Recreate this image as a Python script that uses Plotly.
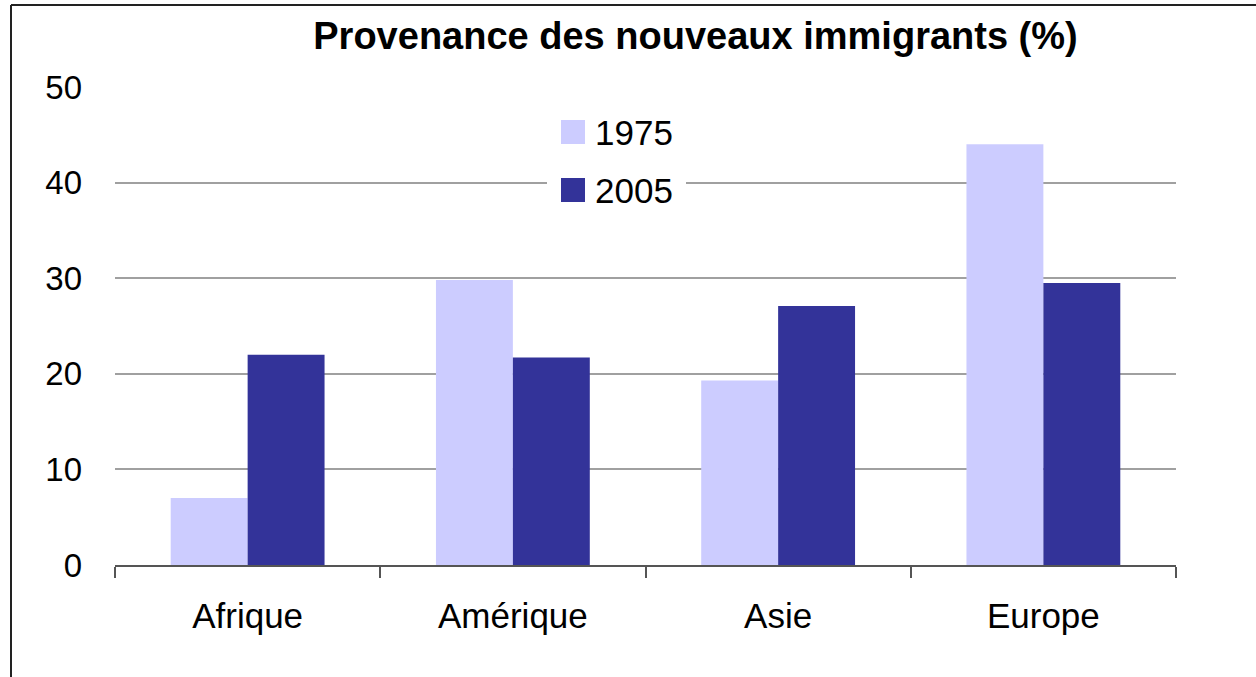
import plotly.graph_objects as go

categories = ["Afrique", "Amérique", "Asie", "Europe"]
series_names = ["1975", "2005"]
values_1975 = [7.0, 29.8, 19.3, 44.0]
values_2005 = [22.0, 21.7, 27.1, 29.5]
y_ticks = [0, 10, 20, 30, 40, 50]
title_text = "Provenance des nouveaux immigrants (%)"

colors = ["#CCCCFF", "#333399"]
FONT = "Liberation Sans, Arial, sans-serif"

W, H = 1256, 677
L, R, T, B = 115, 80, 87, 112
pw, ph = W - L - R, H - T - B

def px_x(x):
    return (x - L) / pw

def px_y(y):
    return (H - B - y) / ph

fig = go.Figure()
for name, vals, col in zip(series_names, [values_1975, values_2005], colors):
    fig.add_trace(go.Bar(x=categories, y=vals, name=name, marker=dict(color=col, line=dict(width=0)),
                         showlegend=False))

shapes = []
annotations = []
# white legend background covering gridline
shapes.append(dict(type="rect", xref="paper", yref="paper", x0=px_x(547), x1=px_x(686),
                   y0=px_y(210), y1=px_y(112), fillcolor="white", line=dict(width=0), layer="above"))
for i, (name, col) in enumerate(zip(series_names, colors)):
    cy = 132 + i * 58
    shapes.append(dict(type="rect", xref="paper", yref="paper", x0=px_x(561), x1=px_x(585),
                       y0=px_y(cy + 12), y1=px_y(cy - 12), fillcolor=col, line=dict(width=0), layer="above"))
    annotations.append(dict(text=name, xref="paper", yref="paper", x=px_x(593), y=px_y(cy),
                            xanchor="left", yanchor="middle", showarrow=False,
                            font=dict(family=FONT, size=35, color="black")))
# outer border lines (left and top)
shapes.append(dict(type="line", xref="paper", yref="paper", x0=px_x(11), x1=px_x(11),
                   y0=px_y(5), y1=px_y(H + 5), line=dict(color="#222222", width=2)))
shapes.append(dict(type="line", xref="paper", yref="paper", x0=px_x(11), x1=px_x(W + 5),
                   y0=px_y(5), y1=px_y(5), line=dict(color="#222222", width=2)))

fig.update_layout(
    width=W, height=H,
    margin=dict(l=L, r=R, t=T, b=B),
    paper_bgcolor="white", plot_bgcolor="white",
    barmode="group", bargap=0.42, bargroupgap=0,
    title=dict(text="<b>" + title_text + "</b>", x=695.5 / W, xanchor="center",
               y=1 - 36 / H, yanchor="middle",
               font=dict(family=FONT, size=38, color="black")),
    font=dict(family=FONT, size=33, color="black"),
    shapes=shapes, annotations=annotations,
    xaxis=dict(showline=True, linecolor="#555555", linewidth=2, ticks="outside",
               tickson="boundaries", ticklen=11, tickcolor="#555555", tickwidth=2,
               ticklabelstandoff=19, showgrid=False, tickfont=dict(family=FONT, size=35)),
    yaxis=dict(range=[0, 50], tickvals=y_ticks, showgrid=True, gridcolor="#a0a0a0", gridwidth=1.5,
               zeroline=False, showline=False, ticks="", ticklabelstandoff=32,
               tickfont=dict(family=FONT, size=33)),
)

fig.write_html("out.html", config={"displayModeBar": False},
               post_script="document.body.style.margin='0';")
